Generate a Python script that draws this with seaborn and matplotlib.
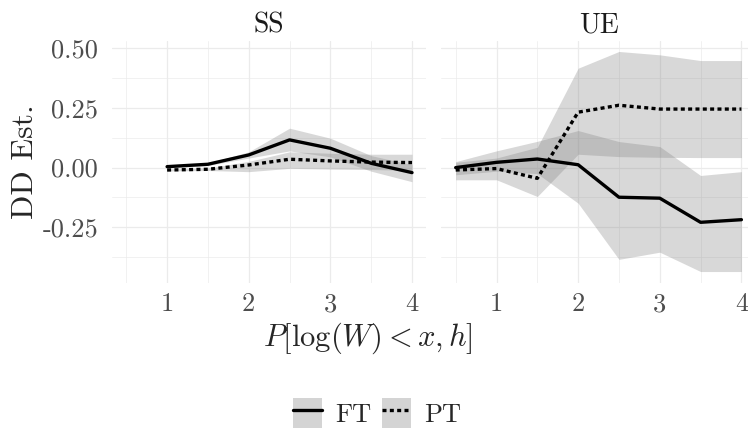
import matplotlib
matplotlib.use('Agg')
import matplotlib.pyplot as plt
import seaborn as sns
import pandas as pd
from matplotlib.patches import Patch
from matplotlib.lines import Line2D

# SS panel
ss_x = [1, 1.5, 2, 2.5, 3, 3.5, 4]
ss_ft = [0.004, 0.014, 0.053, 0.116, 0.081, 0.018, -0.021]
ss_ft_lo = [0.000, 0.009, 0.040, 0.070, 0.045, -0.015, -0.059]
ss_ft_hi = [0.008, 0.019, 0.066, 0.165, 0.123, 0.050, 0.012]
ss_pt = [-0.010, -0.007, 0.011, 0.035, 0.028, 0.023, 0.021]
ss_pt_lo = [-0.014, -0.012, -0.017, -0.003, -0.006, -0.008, -0.012]
ss_pt_hi = [-0.006, -0.002, 0.026, 0.066, 0.060, 0.056, 0.056]

# UE panel
ue_x = [0.5, 1, 1.5, 2, 2.5, 3, 3.5, 4]
ue_ft = [0.000, 0.022, 0.036, 0.012, -0.124, -0.128, -0.229, -0.218]
ue_ft_lo = [-0.030, -0.015, -0.025, -0.149, -0.384, -0.354, -0.435, -0.435]
ue_ft_hi = [0.025, 0.070, 0.110, 0.155, 0.109, 0.088, -0.033, -0.017]
ue_pt = [-0.010, -0.004, -0.045, 0.232, 0.261, 0.245, 0.245, 0.245]
ue_pt_lo = [-0.051, -0.051, -0.121, 0.056, 0.046, 0.043, 0.042, 0.042]
ue_pt_hi = [0.022, 0.040, 0.085, 0.416, 0.486, 0.472, 0.448, 0.448]

xticks = [1, 2, 3, 4]
xtick_labels = ['1', '2', '3', '4']
yticks = [-0.25, 0.0, 0.25, 0.5]
ytick_labels = ['-0.25', '0.00', '0.25', '0.50']

sns.set_style('white')
plt.rcParams['font.family'] = ['cmr10', 'DejaVu Sans']
plt.rcParams['mathtext.fontset'] = 'cm'
plt.rcParams['axes.unicode_minus'] = False
plt.rcParams['axes.formatter.use_mathtext'] = True


def make_df(x, ft, pt):
    return pd.DataFrame({
        'x': list(x) + list(x),
        'est': list(ft) + list(pt),
        'type': ['FT'] * len(x) + ['PT'] * len(x),
    })


panels = [
    ('SS', ss_x, ss_ft, ss_ft_lo, ss_ft_hi, ss_pt, ss_pt_lo, ss_pt_hi),
    ('UE', ue_x, ue_ft, ue_ft_lo, ue_ft_hi, ue_pt, ue_pt_lo, ue_pt_hi),
]

fig = plt.figure(figsize=(7.48, 4.32), dpi=100)
W, H = 748, 432
top, bottom = 40.5, 283
pw = 314.3
lefts = [112, 441.4]

for i, (name, x, ft, ft_lo, ft_hi, pt, pt_lo, pt_hi) in enumerate(panels):
    ax = fig.add_axes([lefts[i] / W, 1 - bottom / H, pw / W, (bottom - top) / H])
    ax.set_axisbelow(True)
    ax.fill_between(x, ft_lo, ft_hi, color='#7f7f7f', alpha=0.3, linewidth=0)
    ax.fill_between(x, pt_lo, pt_hi, color='#7f7f7f', alpha=0.3, linewidth=0)
    df = make_df(x, ft, pt)
    sns.lineplot(data=df, x='x', y='est', style='type', color='black',
                 dashes={'FT': '', 'PT': (1.2, 1.0)}, linewidth=2.4,
                 legend=False, ax=ax)
    ax.set_xlim(0.325, 4.175)
    ax.set_ylim(-0.483, 0.532)
    ax.set_xticks(xticks, labels=xtick_labels)
    ax.set_xticks([0.5, 1.5, 2.5, 3.5], minor=True)
    ax.set_yticks(yticks, labels=ytick_labels if i == 0 else [])
    ax.set_yticks([-0.375, -0.125, 0.125, 0.375], minor=True)
    ax.grid(which='major', color='#ebebeb', linewidth=0.9)
    ax.grid(which='minor', color='#ebebeb', linewidth=0.5)
    ax.tick_params(which='both', length=0, labelsize=19, labelcolor='#4d4d4d')
    ax.tick_params(axis='x', pad=7)
    ax.tick_params(axis='y', pad=10)
    for s in ax.spines.values():
        s.set_visible(False)
    ax.set_xlabel('')
    ax.set_ylabel('')
    ax.set_title(name, fontsize=20, color='#1a1a1a', pad=6)

fig.text(25 / W, 1 - 161.5 / H, 'DD Est.', rotation=90, fontsize=23,
         ha='center', va='center')
fig.text(368 / W, 1 - 338 / H, r'$P[\log(W) < x, h]$', fontsize=22,
         ha='center', va='center')

key = '#d4d4d4'
handles = [
    (Patch(facecolor=key, edgecolor='none'), Line2D([], [], color='black', linewidth=2.4)),
    (Patch(facecolor=key, edgecolor='none'), Line2D([], [], color='black', linewidth=2.4,
                                                     dashes=(1.2, 1.0))),
]
fig.legend(handles, ['FT', 'PT'], loc='center', bbox_to_anchor=(377 / W, 1 - 413 / H),
           ncol=2, frameon=False, fontsize=19, handlelength=1.1, handleheight=1.35,
           handletextpad=0.5, columnspacing=0.4, borderpad=0)

fig.savefig('out.png', dpi=100)
